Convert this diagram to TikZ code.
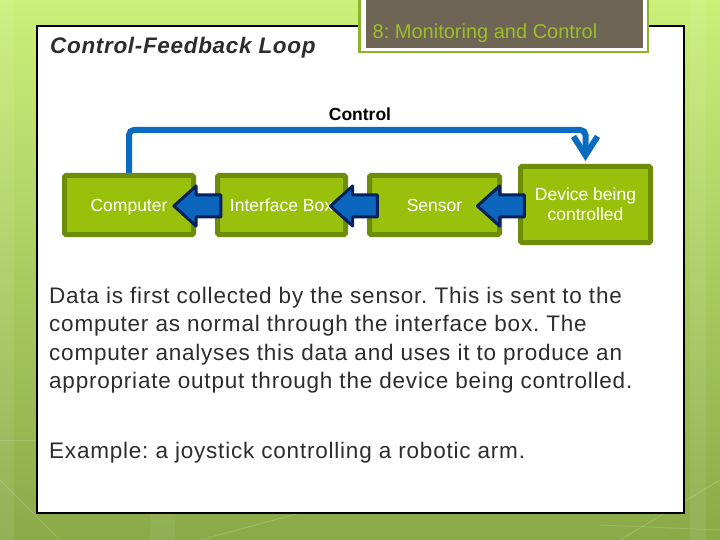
\documentclass[tikz,border=0pt]{standalone}
\usepackage{fontspec}
\setmainfont{Liberation Sans}
\usetikzlibrary{shapes.arrows,arrows.meta}
\frenchspacing
\definecolor{bgtop}{RGB}{202,240,122}
\definecolor{bgmid}{RGB}{176,214,98}
\definecolor{bgbot}{RGB}{138,170,72}
\definecolor{titledark}{RGB}{111,101,84}
\definecolor{titleframe}{RGB}{140,180,40}
\definecolor{titletext}{RGB}{158,190,40}
\definecolor{boxfill}{RGB}{153,193,12}
\definecolor{boxline}{RGB}{108,140,10}
\definecolor{arrowblue}{RGB}{12,102,190}
\definecolor{navy}{RGB}{8,32,92}
\definecolor{ctrlblue}{RGB}{10,108,192}
\definecolor{textgrey}{RGB}{45,45,45}
\tikzset{
  blockbox/.style={draw=boxline, fill=boxfill, line width=5pt, rounded corners=1.5pt,
    minimum width=129pt, minimum height=59pt, inner sep=0pt, text=white,
    text height=12.5pt, text depth=0pt,
    font=\fontsize{17.5}{20}\selectfont, align=center},
  barrow/.style={single arrow, shape border rotate=180, draw=navy, fill=arrowblue,
    line width=3pt, line join=round, minimum height=47pt,
    single arrow head extend=9pt, single arrow tip angle=84,
    inner xsep=0pt, inner ysep=9.5pt},
  ctrlline/.style={draw=ctrlblue, line width=6pt, rounded corners=5pt,
    -{Straight Barb[length=19pt,width=24pt]}},
  bodytext/.style={text=textgrey, anchor=base west, inner sep=0pt,
    font=\fontsize{22.5}{28.6}\selectfont\addfontfeature{LetterSpace=3.5}}
}
\begin{document}
\begin{tikzpicture}[x=1pt,y=-1pt]
\useasboundingbox (0,0) rectangle (720,540);
% background
\shade[top color=bgtop, middle color=bgmid, bottom color=bgbot] (0,0) rectangle (720,540);
\fill[white, opacity=0.08] (0,0) rectangle (14,540);
\fill[white, opacity=0.08] (690,0) rectangle (706,540);
\fill[white, opacity=0.06] (150,513) rectangle (175,540);
\draw[white, opacity=0.18, line width=0.8pt] (0,480) -- (60,540);
\draw[white, opacity=0.18, line width=0.8pt] (200,540) -- (300,513);
\draw[white, opacity=0.18, line width=0.8pt] (620,540) -- (720,480);
\draw[white, opacity=0.15, line width=0.8pt] (600,525) -- (720,530);
\draw[white, opacity=0.15, line width=0.8pt] (0,440) -- (37,440);
% main panel
\node[draw=black, fill=white, line width=1.5pt, minimum width=647pt, minimum height=487pt,
  inner sep=0pt] (panel) at (360.5,269.5) {};
% title box
\draw[titleframe, line width=2.5pt, fill=white] (359.5,-5) rectangle (648,52) ;
\node[fill=titledark, minimum width=277pt, minimum height=55pt, inner sep=0pt] (tbox) at (504.5,20.5) {};
\node[text=titletext, font=\fontsize{20}{22}\selectfont, anchor=base, inner sep=0pt] (ttext) at (485,38.5) {8: Monitoring and Control};
% heading
\node[text=textgrey, font=\fontsize{22.5}{24}\selectfont\bfseries\itshape\addfontfeature{LetterSpace=3}, anchor=base west, inner sep=0pt] (head) at (50,53.5) {Control-Feedback Loop};
% control label
\node[font=\fontsize{17.5}{19}\selectfont\bfseries, anchor=base, inner sep=0pt] (ctl) at (360,121) {Control};
% boxes
\node[blockbox] (comp) at (129,205) {Computer};
\node[blockbox, minimum width=128pt] (iface) at (281.5,205) {Interface Box};
\node[blockbox, minimum width=130pt] (sens) at (434.5,205) {Sensor};
\node[blockbox, minimum width=130pt, minimum height=76pt, text height=33pt] (dev) at (585.5,204.5) {Device being\\controlled};
% block arrows
\node[barrow] (a1) at (203.5,206) {};
\node[barrow] (a2) at (360,206) {};
\node[barrow] (a3) at (507,206) {};
% control loop
\coordinate (ytop) at (0,130);
\draw[ctrlline] (comp.north) -- (comp.north |- ytop) -- (dev.north |- ytop) -- ([yshift=3pt]dev.north);
% body text
\node[bodytext] (body1) at (49,303) {Data is first collected by the sensor. This is sent to the};
\node[bodytext] (body2) at (49,331.6) {computer as normal through the interface box. The};
\node[bodytext] (body3) at (49,360.2) {computer analyses this data and uses it to produce an};
\node[bodytext] (body4) at (49,388.8) {appropriate output through the device being controlled.};
\node[bodytext] (ex) at (49,458.5) {Example: a joystick controlling a robotic arm.};
\end{tikzpicture}
\end{document}
